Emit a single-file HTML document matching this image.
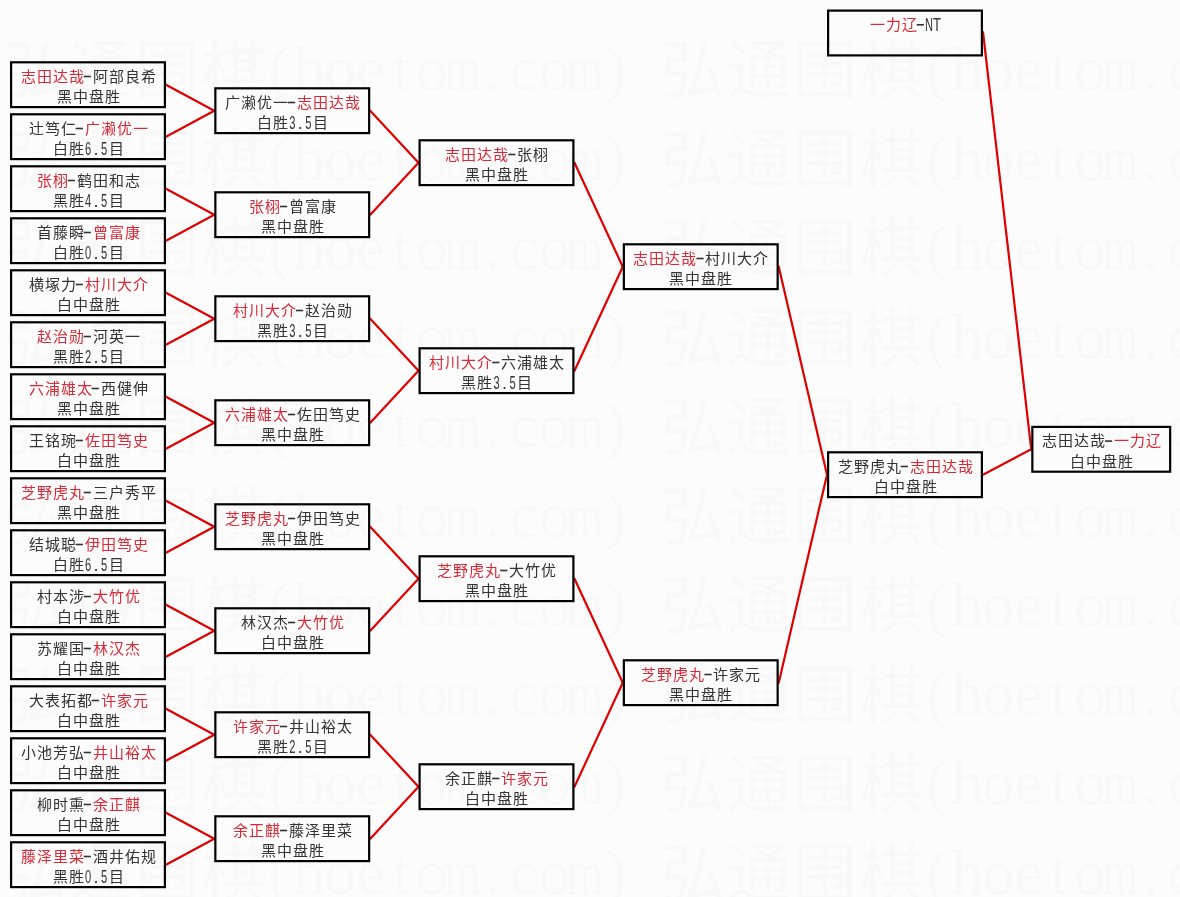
<!DOCTYPE html>
<html lang="zh-CN"><head><meta charset="utf-8"><style>
html,body{margin:0;padding:0;background:#fcfcfc;-webkit-font-smoothing:antialiased;}
body{width:1180px;height:897px;overflow:hidden;position:relative;}
svg{position:absolute;left:0;top:0;will-change:transform;}
.c{font-family:"Liberation Serif",serif;font-size:15.0px;}
.a{font-family:"Liberation Sans",sans-serif;font-size:18px;}
.wc{font-family:"Liberation Serif",serif;font-size:64px;font-weight:300;fill:#f8f8f8;}
.wa{font-family:"Liberation Serif",serif;font-size:64px;fill:#f8f8f8;}
</style></head><body>
<svg width="1180" height="897" viewBox="0 0 1180 897">
<g><text x="3.0 69.0 135.0 201.0" y="92.8" class="wc">弘通围棋</text><text x="268.3" y="90.3" class="wa">(</text><text x="293.6" y="90.3" class="wa">h</text><text x="324.2" y="90.3" class="wa">o</text><text x="356.6" y="90.3" class="wa">e</text><text x="392.5" y="90.3" class="wa">t</text><text x="416.0" y="90.3" class="wa">o</text><text x="444.6" y="90.3" class="wa" textLength="36.0" lengthAdjust="spacingAndGlyphs">m</text><text x="485.2" y="90.3" class="wa">.</text><text x="509.6" y="90.3" class="wa">c</text><text x="538.4" y="90.3" class="wa">o</text><text x="567.0" y="90.3" class="wa" textLength="36.0" lengthAdjust="spacingAndGlyphs">m</text><text x="604.9" y="90.3" class="wa">)</text><text x="661.0 727.0 793.0 859.0" y="92.8" class="wc">弘通围棋</text><text x="926.3" y="90.3" class="wa">(</text><text x="951.6" y="90.3" class="wa">h</text><text x="982.2" y="90.3" class="wa">o</text><text x="1014.6" y="90.3" class="wa">e</text><text x="1050.5" y="90.3" class="wa">t</text><text x="1074.0" y="90.3" class="wa">o</text><text x="1102.6" y="90.3" class="wa" textLength="36.0" lengthAdjust="spacingAndGlyphs">m</text><text x="1143.2" y="90.3" class="wa">.</text><text x="1167.6" y="90.3" class="wa">c</text><text x="1196.4" y="90.3" class="wa">o</text><text x="1225.0" y="90.3" class="wa" textLength="36.0" lengthAdjust="spacingAndGlyphs">m</text><text x="1262.9" y="90.3" class="wa">)</text><text x="3.0 69.0 135.0 201.0" y="182.1" class="wc">弘通围棋</text><text x="268.3" y="179.6" class="wa">(</text><text x="293.6" y="179.6" class="wa">h</text><text x="324.2" y="179.6" class="wa">o</text><text x="356.6" y="179.6" class="wa">e</text><text x="392.5" y="179.6" class="wa">t</text><text x="416.0" y="179.6" class="wa">o</text><text x="444.6" y="179.6" class="wa" textLength="36.0" lengthAdjust="spacingAndGlyphs">m</text><text x="485.2" y="179.6" class="wa">.</text><text x="509.6" y="179.6" class="wa">c</text><text x="538.4" y="179.6" class="wa">o</text><text x="567.0" y="179.6" class="wa" textLength="36.0" lengthAdjust="spacingAndGlyphs">m</text><text x="604.9" y="179.6" class="wa">)</text><text x="661.0 727.0 793.0 859.0" y="182.1" class="wc">弘通围棋</text><text x="926.3" y="179.6" class="wa">(</text><text x="951.6" y="179.6" class="wa">h</text><text x="982.2" y="179.6" class="wa">o</text><text x="1014.6" y="179.6" class="wa">e</text><text x="1050.5" y="179.6" class="wa">t</text><text x="1074.0" y="179.6" class="wa">o</text><text x="1102.6" y="179.6" class="wa" textLength="36.0" lengthAdjust="spacingAndGlyphs">m</text><text x="1143.2" y="179.6" class="wa">.</text><text x="1167.6" y="179.6" class="wa">c</text><text x="1196.4" y="179.6" class="wa">o</text><text x="1225.0" y="179.6" class="wa" textLength="36.0" lengthAdjust="spacingAndGlyphs">m</text><text x="1262.9" y="179.6" class="wa">)</text><text x="3.0 69.0 135.0 201.0" y="271.3" class="wc">弘通围棋</text><text x="268.3" y="268.8" class="wa">(</text><text x="293.6" y="268.8" class="wa">h</text><text x="324.2" y="268.8" class="wa">o</text><text x="356.6" y="268.8" class="wa">e</text><text x="392.5" y="268.8" class="wa">t</text><text x="416.0" y="268.8" class="wa">o</text><text x="444.6" y="268.8" class="wa" textLength="36.0" lengthAdjust="spacingAndGlyphs">m</text><text x="485.2" y="268.8" class="wa">.</text><text x="509.6" y="268.8" class="wa">c</text><text x="538.4" y="268.8" class="wa">o</text><text x="567.0" y="268.8" class="wa" textLength="36.0" lengthAdjust="spacingAndGlyphs">m</text><text x="604.9" y="268.8" class="wa">)</text><text x="661.0 727.0 793.0 859.0" y="271.3" class="wc">弘通围棋</text><text x="926.3" y="268.8" class="wa">(</text><text x="951.6" y="268.8" class="wa">h</text><text x="982.2" y="268.8" class="wa">o</text><text x="1014.6" y="268.8" class="wa">e</text><text x="1050.5" y="268.8" class="wa">t</text><text x="1074.0" y="268.8" class="wa">o</text><text x="1102.6" y="268.8" class="wa" textLength="36.0" lengthAdjust="spacingAndGlyphs">m</text><text x="1143.2" y="268.8" class="wa">.</text><text x="1167.6" y="268.8" class="wa">c</text><text x="1196.4" y="268.8" class="wa">o</text><text x="1225.0" y="268.8" class="wa" textLength="36.0" lengthAdjust="spacingAndGlyphs">m</text><text x="1262.9" y="268.8" class="wa">)</text><text x="3.0 69.0 135.0 201.0" y="360.6" class="wc">弘通围棋</text><text x="268.3" y="358.1" class="wa">(</text><text x="293.6" y="358.1" class="wa">h</text><text x="324.2" y="358.1" class="wa">o</text><text x="356.6" y="358.1" class="wa">e</text><text x="392.5" y="358.1" class="wa">t</text><text x="416.0" y="358.1" class="wa">o</text><text x="444.6" y="358.1" class="wa" textLength="36.0" lengthAdjust="spacingAndGlyphs">m</text><text x="485.2" y="358.1" class="wa">.</text><text x="509.6" y="358.1" class="wa">c</text><text x="538.4" y="358.1" class="wa">o</text><text x="567.0" y="358.1" class="wa" textLength="36.0" lengthAdjust="spacingAndGlyphs">m</text><text x="604.9" y="358.1" class="wa">)</text><text x="661.0 727.0 793.0 859.0" y="360.6" class="wc">弘通围棋</text><text x="926.3" y="358.1" class="wa">(</text><text x="951.6" y="358.1" class="wa">h</text><text x="982.2" y="358.1" class="wa">o</text><text x="1014.6" y="358.1" class="wa">e</text><text x="1050.5" y="358.1" class="wa">t</text><text x="1074.0" y="358.1" class="wa">o</text><text x="1102.6" y="358.1" class="wa" textLength="36.0" lengthAdjust="spacingAndGlyphs">m</text><text x="1143.2" y="358.1" class="wa">.</text><text x="1167.6" y="358.1" class="wa">c</text><text x="1196.4" y="358.1" class="wa">o</text><text x="1225.0" y="358.1" class="wa" textLength="36.0" lengthAdjust="spacingAndGlyphs">m</text><text x="1262.9" y="358.1" class="wa">)</text><text x="3.0 69.0 135.0 201.0" y="449.8" class="wc">弘通围棋</text><text x="268.3" y="447.3" class="wa">(</text><text x="293.6" y="447.3" class="wa">h</text><text x="324.2" y="447.3" class="wa">o</text><text x="356.6" y="447.3" class="wa">e</text><text x="392.5" y="447.3" class="wa">t</text><text x="416.0" y="447.3" class="wa">o</text><text x="444.6" y="447.3" class="wa" textLength="36.0" lengthAdjust="spacingAndGlyphs">m</text><text x="485.2" y="447.3" class="wa">.</text><text x="509.6" y="447.3" class="wa">c</text><text x="538.4" y="447.3" class="wa">o</text><text x="567.0" y="447.3" class="wa" textLength="36.0" lengthAdjust="spacingAndGlyphs">m</text><text x="604.9" y="447.3" class="wa">)</text><text x="661.0 727.0 793.0 859.0" y="449.8" class="wc">弘通围棋</text><text x="926.3" y="447.3" class="wa">(</text><text x="951.6" y="447.3" class="wa">h</text><text x="982.2" y="447.3" class="wa">o</text><text x="1014.6" y="447.3" class="wa">e</text><text x="1050.5" y="447.3" class="wa">t</text><text x="1074.0" y="447.3" class="wa">o</text><text x="1102.6" y="447.3" class="wa" textLength="36.0" lengthAdjust="spacingAndGlyphs">m</text><text x="1143.2" y="447.3" class="wa">.</text><text x="1167.6" y="447.3" class="wa">c</text><text x="1196.4" y="447.3" class="wa">o</text><text x="1225.0" y="447.3" class="wa" textLength="36.0" lengthAdjust="spacingAndGlyphs">m</text><text x="1262.9" y="447.3" class="wa">)</text><text x="3.0 69.0 135.0 201.0" y="539.0" class="wc">弘通围棋</text><text x="268.3" y="536.5" class="wa">(</text><text x="293.6" y="536.5" class="wa">h</text><text x="324.2" y="536.5" class="wa">o</text><text x="356.6" y="536.5" class="wa">e</text><text x="392.5" y="536.5" class="wa">t</text><text x="416.0" y="536.5" class="wa">o</text><text x="444.6" y="536.5" class="wa" textLength="36.0" lengthAdjust="spacingAndGlyphs">m</text><text x="485.2" y="536.5" class="wa">.</text><text x="509.6" y="536.5" class="wa">c</text><text x="538.4" y="536.5" class="wa">o</text><text x="567.0" y="536.5" class="wa" textLength="36.0" lengthAdjust="spacingAndGlyphs">m</text><text x="604.9" y="536.5" class="wa">)</text><text x="661.0 727.0 793.0 859.0" y="539.0" class="wc">弘通围棋</text><text x="926.3" y="536.5" class="wa">(</text><text x="951.6" y="536.5" class="wa">h</text><text x="982.2" y="536.5" class="wa">o</text><text x="1014.6" y="536.5" class="wa">e</text><text x="1050.5" y="536.5" class="wa">t</text><text x="1074.0" y="536.5" class="wa">o</text><text x="1102.6" y="536.5" class="wa" textLength="36.0" lengthAdjust="spacingAndGlyphs">m</text><text x="1143.2" y="536.5" class="wa">.</text><text x="1167.6" y="536.5" class="wa">c</text><text x="1196.4" y="536.5" class="wa">o</text><text x="1225.0" y="536.5" class="wa" textLength="36.0" lengthAdjust="spacingAndGlyphs">m</text><text x="1262.9" y="536.5" class="wa">)</text><text x="3.0 69.0 135.0 201.0" y="628.3" class="wc">弘通围棋</text><text x="268.3" y="625.8" class="wa">(</text><text x="293.6" y="625.8" class="wa">h</text><text x="324.2" y="625.8" class="wa">o</text><text x="356.6" y="625.8" class="wa">e</text><text x="392.5" y="625.8" class="wa">t</text><text x="416.0" y="625.8" class="wa">o</text><text x="444.6" y="625.8" class="wa" textLength="36.0" lengthAdjust="spacingAndGlyphs">m</text><text x="485.2" y="625.8" class="wa">.</text><text x="509.6" y="625.8" class="wa">c</text><text x="538.4" y="625.8" class="wa">o</text><text x="567.0" y="625.8" class="wa" textLength="36.0" lengthAdjust="spacingAndGlyphs">m</text><text x="604.9" y="625.8" class="wa">)</text><text x="661.0 727.0 793.0 859.0" y="628.3" class="wc">弘通围棋</text><text x="926.3" y="625.8" class="wa">(</text><text x="951.6" y="625.8" class="wa">h</text><text x="982.2" y="625.8" class="wa">o</text><text x="1014.6" y="625.8" class="wa">e</text><text x="1050.5" y="625.8" class="wa">t</text><text x="1074.0" y="625.8" class="wa">o</text><text x="1102.6" y="625.8" class="wa" textLength="36.0" lengthAdjust="spacingAndGlyphs">m</text><text x="1143.2" y="625.8" class="wa">.</text><text x="1167.6" y="625.8" class="wa">c</text><text x="1196.4" y="625.8" class="wa">o</text><text x="1225.0" y="625.8" class="wa" textLength="36.0" lengthAdjust="spacingAndGlyphs">m</text><text x="1262.9" y="625.8" class="wa">)</text><text x="3.0 69.0 135.0 201.0" y="717.5" class="wc">弘通围棋</text><text x="268.3" y="715.0" class="wa">(</text><text x="293.6" y="715.0" class="wa">h</text><text x="324.2" y="715.0" class="wa">o</text><text x="356.6" y="715.0" class="wa">e</text><text x="392.5" y="715.0" class="wa">t</text><text x="416.0" y="715.0" class="wa">o</text><text x="444.6" y="715.0" class="wa" textLength="36.0" lengthAdjust="spacingAndGlyphs">m</text><text x="485.2" y="715.0" class="wa">.</text><text x="509.6" y="715.0" class="wa">c</text><text x="538.4" y="715.0" class="wa">o</text><text x="567.0" y="715.0" class="wa" textLength="36.0" lengthAdjust="spacingAndGlyphs">m</text><text x="604.9" y="715.0" class="wa">)</text><text x="661.0 727.0 793.0 859.0" y="717.5" class="wc">弘通围棋</text><text x="926.3" y="715.0" class="wa">(</text><text x="951.6" y="715.0" class="wa">h</text><text x="982.2" y="715.0" class="wa">o</text><text x="1014.6" y="715.0" class="wa">e</text><text x="1050.5" y="715.0" class="wa">t</text><text x="1074.0" y="715.0" class="wa">o</text><text x="1102.6" y="715.0" class="wa" textLength="36.0" lengthAdjust="spacingAndGlyphs">m</text><text x="1143.2" y="715.0" class="wa">.</text><text x="1167.6" y="715.0" class="wa">c</text><text x="1196.4" y="715.0" class="wa">o</text><text x="1225.0" y="715.0" class="wa" textLength="36.0" lengthAdjust="spacingAndGlyphs">m</text><text x="1262.9" y="715.0" class="wa">)</text><text x="3.0 69.0 135.0 201.0" y="806.8" class="wc">弘通围棋</text><text x="268.3" y="804.3" class="wa">(</text><text x="293.6" y="804.3" class="wa">h</text><text x="324.2" y="804.3" class="wa">o</text><text x="356.6" y="804.3" class="wa">e</text><text x="392.5" y="804.3" class="wa">t</text><text x="416.0" y="804.3" class="wa">o</text><text x="444.6" y="804.3" class="wa" textLength="36.0" lengthAdjust="spacingAndGlyphs">m</text><text x="485.2" y="804.3" class="wa">.</text><text x="509.6" y="804.3" class="wa">c</text><text x="538.4" y="804.3" class="wa">o</text><text x="567.0" y="804.3" class="wa" textLength="36.0" lengthAdjust="spacingAndGlyphs">m</text><text x="604.9" y="804.3" class="wa">)</text><text x="661.0 727.0 793.0 859.0" y="806.8" class="wc">弘通围棋</text><text x="926.3" y="804.3" class="wa">(</text><text x="951.6" y="804.3" class="wa">h</text><text x="982.2" y="804.3" class="wa">o</text><text x="1014.6" y="804.3" class="wa">e</text><text x="1050.5" y="804.3" class="wa">t</text><text x="1074.0" y="804.3" class="wa">o</text><text x="1102.6" y="804.3" class="wa" textLength="36.0" lengthAdjust="spacingAndGlyphs">m</text><text x="1143.2" y="804.3" class="wa">.</text><text x="1167.6" y="804.3" class="wa">c</text><text x="1196.4" y="804.3" class="wa">o</text><text x="1225.0" y="804.3" class="wa" textLength="36.0" lengthAdjust="spacingAndGlyphs">m</text><text x="1262.9" y="804.3" class="wa">)</text><text x="3.0 69.0 135.0 201.0" y="896.0" class="wc">弘通围棋</text><text x="268.3" y="893.5" class="wa">(</text><text x="293.6" y="893.5" class="wa">h</text><text x="324.2" y="893.5" class="wa">o</text><text x="356.6" y="893.5" class="wa">e</text><text x="392.5" y="893.5" class="wa">t</text><text x="416.0" y="893.5" class="wa">o</text><text x="444.6" y="893.5" class="wa" textLength="36.0" lengthAdjust="spacingAndGlyphs">m</text><text x="485.2" y="893.5" class="wa">.</text><text x="509.6" y="893.5" class="wa">c</text><text x="538.4" y="893.5" class="wa">o</text><text x="567.0" y="893.5" class="wa" textLength="36.0" lengthAdjust="spacingAndGlyphs">m</text><text x="604.9" y="893.5" class="wa">)</text><text x="661.0 727.0 793.0 859.0" y="896.0" class="wc">弘通围棋</text><text x="926.3" y="893.5" class="wa">(</text><text x="951.6" y="893.5" class="wa">h</text><text x="982.2" y="893.5" class="wa">o</text><text x="1014.6" y="893.5" class="wa">e</text><text x="1050.5" y="893.5" class="wa">t</text><text x="1074.0" y="893.5" class="wa">o</text><text x="1102.6" y="893.5" class="wa" textLength="36.0" lengthAdjust="spacingAndGlyphs">m</text><text x="1143.2" y="893.5" class="wa">.</text><text x="1167.6" y="893.5" class="wa">c</text><text x="1196.4" y="893.5" class="wa">o</text><text x="1225.0" y="893.5" class="wa" textLength="36.0" lengthAdjust="spacingAndGlyphs">m</text><text x="1262.9" y="893.5" class="wa">)</text></g>
<g stroke="#e00000" stroke-width="2.2" stroke-linecap="round">
<line x1="166.00" y1="84.70" x2="214.25" y2="110.70"/>
<line x1="166.00" y1="136.70" x2="214.25" y2="110.70"/>
<line x1="166.00" y1="188.70" x2="214.25" y2="214.70"/>
<line x1="166.00" y1="240.70" x2="214.25" y2="214.70"/>
<line x1="166.00" y1="292.70" x2="214.25" y2="318.70"/>
<line x1="166.00" y1="344.70" x2="214.25" y2="318.70"/>
<line x1="166.00" y1="396.70" x2="214.25" y2="422.70"/>
<line x1="166.00" y1="448.70" x2="214.25" y2="422.70"/>
<line x1="166.00" y1="500.70" x2="214.25" y2="526.70"/>
<line x1="166.00" y1="552.70" x2="214.25" y2="526.70"/>
<line x1="166.00" y1="604.70" x2="214.25" y2="630.70"/>
<line x1="166.00" y1="656.70" x2="214.25" y2="630.70"/>
<line x1="166.00" y1="708.70" x2="214.25" y2="734.70"/>
<line x1="166.00" y1="760.70" x2="214.25" y2="734.70"/>
<line x1="166.00" y1="812.70" x2="214.25" y2="838.70"/>
<line x1="166.00" y1="864.70" x2="214.25" y2="838.70"/>
<line x1="370.25" y1="110.70" x2="418.50" y2="162.70"/>
<line x1="370.25" y1="214.70" x2="418.50" y2="162.70"/>
<line x1="370.25" y1="318.70" x2="418.50" y2="370.70"/>
<line x1="370.25" y1="422.70" x2="418.50" y2="370.70"/>
<line x1="370.25" y1="526.70" x2="418.50" y2="578.70"/>
<line x1="370.25" y1="630.70" x2="418.50" y2="578.70"/>
<line x1="370.25" y1="734.70" x2="418.50" y2="786.70"/>
<line x1="370.25" y1="838.70" x2="418.50" y2="786.70"/>
<line x1="574.50" y1="162.70" x2="622.75" y2="266.70"/>
<line x1="574.50" y1="370.70" x2="622.75" y2="266.70"/>
<line x1="574.50" y1="578.70" x2="622.75" y2="682.70"/>
<line x1="574.50" y1="786.70" x2="622.75" y2="682.70"/>
<line x1="778.75" y1="266.70" x2="827.00" y2="474.70"/>
<line x1="778.75" y1="682.70" x2="827.00" y2="474.70"/>
<line x1="983.00" y1="474.70" x2="1031.25" y2="449.30"/>
<line x1="983.00" y1="32.00" x2="1031.25" y2="449.30"/>
</g>
<g fill="none" stroke="#000" stroke-width="2.2">
<rect x="11.10" y="62.30" width="153.80" height="44.80"/>
<rect x="11.10" y="114.30" width="153.80" height="44.80"/>
<rect x="11.10" y="166.30" width="153.80" height="44.80"/>
<rect x="11.10" y="218.30" width="153.80" height="44.80"/>
<rect x="11.10" y="270.30" width="153.80" height="44.80"/>
<rect x="11.10" y="322.30" width="153.80" height="44.80"/>
<rect x="11.10" y="374.30" width="153.80" height="44.80"/>
<rect x="11.10" y="426.30" width="153.80" height="44.80"/>
<rect x="11.10" y="478.30" width="153.80" height="44.80"/>
<rect x="11.10" y="530.30" width="153.80" height="44.80"/>
<rect x="11.10" y="582.30" width="153.80" height="44.80"/>
<rect x="11.10" y="634.30" width="153.80" height="44.80"/>
<rect x="11.10" y="686.30" width="153.80" height="44.80"/>
<rect x="11.10" y="738.30" width="153.80" height="44.80"/>
<rect x="11.10" y="790.30" width="153.80" height="44.80"/>
<rect x="11.10" y="842.30" width="153.80" height="44.80"/>
<rect x="215.35" y="88.30" width="153.80" height="44.80"/>
<rect x="215.35" y="192.30" width="153.80" height="44.80"/>
<rect x="215.35" y="296.30" width="153.80" height="44.80"/>
<rect x="215.35" y="400.30" width="153.80" height="44.80"/>
<rect x="215.35" y="504.30" width="153.80" height="44.80"/>
<rect x="215.35" y="608.30" width="153.80" height="44.80"/>
<rect x="215.35" y="712.30" width="153.80" height="44.80"/>
<rect x="215.35" y="816.30" width="153.80" height="44.80"/>
<rect x="419.60" y="140.30" width="153.80" height="44.80"/>
<rect x="419.60" y="348.30" width="153.80" height="44.80"/>
<rect x="419.60" y="556.30" width="153.80" height="44.80"/>
<rect x="419.60" y="764.30" width="153.80" height="44.80"/>
<rect x="623.85" y="244.30" width="153.80" height="44.80"/>
<rect x="623.85" y="660.30" width="153.80" height="44.80"/>
<rect x="828.10" y="452.30" width="153.80" height="44.80"/>
<rect x="1032.35" y="426.90" width="137.80" height="44.80"/>
<rect x="828.10" y="10.60" width="153.80" height="44.80"/>
</g>
<g>
<text x="20.50 36.50 52.50 68.50" y="81.50" class="c" fill="#d82a36">志田达哉</text>
<rect x="83.70" y="75.70" width="7.20" height="1.60" fill="#333"/>
<text x="92.50 108.50 124.50 140.50" y="81.50" class="c" fill="#333">阿部良希</text>
<text x="56.50 72.50 88.50 104.50" y="102.00" class="c" fill="#333">黑中盘胜</text>
<text x="28.50 44.50 60.50" y="133.50" class="c" fill="#333">辻笃仁</text>
<rect x="75.70" y="127.70" width="7.20" height="1.60" fill="#333"/>
<text x="84.50 100.50 116.50 132.50" y="133.50" class="c" fill="#d82a36">广濑优一</text>
<text x="52.50 68.50" y="154.00" class="c" fill="#333">白胜</text>
<text x="84.90" y="154.70" class="a" fill="#333" textLength="6.20" lengthAdjust="spacingAndGlyphs">6</text>
<text x="93.50" y="154.70" class="a" fill="#333" textLength="5.00" lengthAdjust="spacingAndGlyphs">.</text>
<text x="100.90" y="154.70" class="a" fill="#333" textLength="6.20" lengthAdjust="spacingAndGlyphs">5</text>
<text x="108.50" y="154.00" class="c" fill="#333">目</text>
<text x="36.50 52.50" y="185.50" class="c" fill="#d82a36">张栩</text>
<rect x="67.70" y="179.70" width="7.20" height="1.60" fill="#333"/>
<text x="76.50 92.50 108.50 124.50" y="185.50" class="c" fill="#333">鹤田和志</text>
<text x="52.50 68.50" y="206.00" class="c" fill="#333">黑胜</text>
<text x="84.90" y="206.70" class="a" fill="#333" textLength="6.20" lengthAdjust="spacingAndGlyphs">4</text>
<text x="93.50" y="206.70" class="a" fill="#333" textLength="5.00" lengthAdjust="spacingAndGlyphs">.</text>
<text x="100.90" y="206.70" class="a" fill="#333" textLength="6.20" lengthAdjust="spacingAndGlyphs">5</text>
<text x="108.50" y="206.00" class="c" fill="#333">目</text>
<text x="36.50 52.50 68.50" y="237.50" class="c" fill="#333">首藤瞬</text>
<rect x="83.70" y="231.70" width="7.20" height="1.60" fill="#333"/>
<text x="92.50 108.50 124.50" y="237.50" class="c" fill="#d82a36">曾富康</text>
<text x="52.50 68.50" y="258.00" class="c" fill="#333">白胜</text>
<text x="84.90" y="258.70" class="a" fill="#333" textLength="6.20" lengthAdjust="spacingAndGlyphs">0</text>
<text x="93.50" y="258.70" class="a" fill="#333" textLength="5.00" lengthAdjust="spacingAndGlyphs">.</text>
<text x="100.90" y="258.70" class="a" fill="#333" textLength="6.20" lengthAdjust="spacingAndGlyphs">5</text>
<text x="108.50" y="258.00" class="c" fill="#333">目</text>
<text x="28.50 44.50 60.50" y="289.50" class="c" fill="#333">横塚力</text>
<rect x="75.70" y="283.70" width="7.20" height="1.60" fill="#333"/>
<text x="84.50 100.50 116.50 132.50" y="289.50" class="c" fill="#d82a36">村川大介</text>
<text x="56.50 72.50 88.50 104.50" y="310.00" class="c" fill="#333">白中盘胜</text>
<text x="36.50 52.50 68.50" y="341.50" class="c" fill="#d82a36">赵治勋</text>
<rect x="83.70" y="335.70" width="7.20" height="1.60" fill="#333"/>
<text x="92.50 108.50 124.50" y="341.50" class="c" fill="#333">河英一</text>
<text x="52.50 68.50" y="362.00" class="c" fill="#333">黑胜</text>
<text x="84.90" y="362.70" class="a" fill="#333" textLength="6.20" lengthAdjust="spacingAndGlyphs">2</text>
<text x="93.50" y="362.70" class="a" fill="#333" textLength="5.00" lengthAdjust="spacingAndGlyphs">.</text>
<text x="100.90" y="362.70" class="a" fill="#333" textLength="6.20" lengthAdjust="spacingAndGlyphs">5</text>
<text x="108.50" y="362.00" class="c" fill="#333">目</text>
<text x="28.50 44.50 60.50 76.50" y="393.50" class="c" fill="#d82a36">六浦雄太</text>
<rect x="91.70" y="387.70" width="7.20" height="1.60" fill="#333"/>
<text x="100.50 116.50 132.50" y="393.50" class="c" fill="#333">西健伸</text>
<text x="56.50 72.50 88.50 104.50" y="414.00" class="c" fill="#333">黑中盘胜</text>
<text x="28.50 44.50 60.50" y="445.50" class="c" fill="#333">王铭琬</text>
<rect x="75.70" y="439.70" width="7.20" height="1.60" fill="#333"/>
<text x="84.50 100.50 116.50 132.50" y="445.50" class="c" fill="#d82a36">佐田笃史</text>
<text x="56.50 72.50 88.50 104.50" y="466.00" class="c" fill="#333">白中盘胜</text>
<text x="20.50 36.50 52.50 68.50" y="497.50" class="c" fill="#d82a36">芝野虎丸</text>
<rect x="83.70" y="491.70" width="7.20" height="1.60" fill="#333"/>
<text x="92.50 108.50 124.50 140.50" y="497.50" class="c" fill="#333">三户秀平</text>
<text x="56.50 72.50 88.50 104.50" y="518.00" class="c" fill="#333">黑中盘胜</text>
<text x="28.50 44.50 60.50" y="549.50" class="c" fill="#333">结城聪</text>
<rect x="75.70" y="543.70" width="7.20" height="1.60" fill="#333"/>
<text x="84.50 100.50 116.50 132.50" y="549.50" class="c" fill="#d82a36">伊田笃史</text>
<text x="52.50 68.50" y="570.00" class="c" fill="#333">白胜</text>
<text x="84.90" y="570.70" class="a" fill="#333" textLength="6.20" lengthAdjust="spacingAndGlyphs">6</text>
<text x="93.50" y="570.70" class="a" fill="#333" textLength="5.00" lengthAdjust="spacingAndGlyphs">.</text>
<text x="100.90" y="570.70" class="a" fill="#333" textLength="6.20" lengthAdjust="spacingAndGlyphs">5</text>
<text x="108.50" y="570.00" class="c" fill="#333">目</text>
<text x="36.50 52.50 68.50" y="601.50" class="c" fill="#333">村本涉</text>
<rect x="83.70" y="595.70" width="7.20" height="1.60" fill="#333"/>
<text x="92.50 108.50 124.50" y="601.50" class="c" fill="#d82a36">大竹优</text>
<text x="56.50 72.50 88.50 104.50" y="622.00" class="c" fill="#333">白中盘胜</text>
<text x="36.50 52.50 68.50" y="653.50" class="c" fill="#333">苏耀国</text>
<rect x="83.70" y="647.70" width="7.20" height="1.60" fill="#333"/>
<text x="92.50 108.50 124.50" y="653.50" class="c" fill="#d82a36">林汉杰</text>
<text x="56.50 72.50 88.50 104.50" y="674.00" class="c" fill="#333">白中盘胜</text>
<text x="28.50 44.50 60.50 76.50" y="705.50" class="c" fill="#333">大表拓都</text>
<rect x="91.70" y="699.70" width="7.20" height="1.60" fill="#333"/>
<text x="100.50 116.50 132.50" y="705.50" class="c" fill="#d82a36">许家元</text>
<text x="56.50 72.50 88.50 104.50" y="726.00" class="c" fill="#333">白中盘胜</text>
<text x="20.50 36.50 52.50 68.50" y="757.50" class="c" fill="#333">小池芳弘</text>
<rect x="83.70" y="751.70" width="7.20" height="1.60" fill="#333"/>
<text x="92.50 108.50 124.50 140.50" y="757.50" class="c" fill="#d82a36">井山裕太</text>
<text x="56.50 72.50 88.50 104.50" y="778.00" class="c" fill="#333">白中盘胜</text>
<text x="36.50 52.50 68.50" y="809.50" class="c" fill="#333">柳时熏</text>
<rect x="83.70" y="803.70" width="7.20" height="1.60" fill="#333"/>
<text x="92.50 108.50 124.50" y="809.50" class="c" fill="#d82a36">余正麒</text>
<text x="56.50 72.50 88.50 104.50" y="830.00" class="c" fill="#333">白中盘胜</text>
<text x="20.50 36.50 52.50 68.50" y="861.50" class="c" fill="#d82a36">藤泽里菜</text>
<rect x="83.70" y="855.70" width="7.20" height="1.60" fill="#333"/>
<text x="92.50 108.50 124.50 140.50" y="861.50" class="c" fill="#333">酒井佑规</text>
<text x="52.50 68.50" y="882.00" class="c" fill="#333">黑胜</text>
<text x="84.90" y="882.70" class="a" fill="#333" textLength="6.20" lengthAdjust="spacingAndGlyphs">0</text>
<text x="93.50" y="882.70" class="a" fill="#333" textLength="5.00" lengthAdjust="spacingAndGlyphs">.</text>
<text x="100.90" y="882.70" class="a" fill="#333" textLength="6.20" lengthAdjust="spacingAndGlyphs">5</text>
<text x="108.50" y="882.00" class="c" fill="#333">目</text>
<text x="224.75 240.75 256.75 272.75" y="107.50" class="c" fill="#333">广濑优一</text>
<rect x="287.95" y="101.70" width="7.20" height="1.60" fill="#333"/>
<text x="296.75 312.75 328.75 344.75" y="107.50" class="c" fill="#d82a36">志田达哉</text>
<text x="256.75 272.75" y="128.00" class="c" fill="#333">白胜</text>
<text x="289.15" y="128.70" class="a" fill="#333" textLength="6.20" lengthAdjust="spacingAndGlyphs">3</text>
<text x="297.75" y="128.70" class="a" fill="#333" textLength="5.00" lengthAdjust="spacingAndGlyphs">.</text>
<text x="305.15" y="128.70" class="a" fill="#333" textLength="6.20" lengthAdjust="spacingAndGlyphs">5</text>
<text x="312.75" y="128.00" class="c" fill="#333">目</text>
<text x="248.75 264.75" y="211.50" class="c" fill="#d82a36">张栩</text>
<rect x="279.95" y="205.70" width="7.20" height="1.60" fill="#333"/>
<text x="288.75 304.75 320.75" y="211.50" class="c" fill="#333">曾富康</text>
<text x="260.75 276.75 292.75 308.75" y="232.00" class="c" fill="#333">黑中盘胜</text>
<text x="232.75 248.75 264.75 280.75" y="315.50" class="c" fill="#d82a36">村川大介</text>
<rect x="295.95" y="309.70" width="7.20" height="1.60" fill="#333"/>
<text x="304.75 320.75 336.75" y="315.50" class="c" fill="#333">赵治勋</text>
<text x="256.75 272.75" y="336.00" class="c" fill="#333">黑胜</text>
<text x="289.15" y="336.70" class="a" fill="#333" textLength="6.20" lengthAdjust="spacingAndGlyphs">3</text>
<text x="297.75" y="336.70" class="a" fill="#333" textLength="5.00" lengthAdjust="spacingAndGlyphs">.</text>
<text x="305.15" y="336.70" class="a" fill="#333" textLength="6.20" lengthAdjust="spacingAndGlyphs">5</text>
<text x="312.75" y="336.00" class="c" fill="#333">目</text>
<text x="224.75 240.75 256.75 272.75" y="419.50" class="c" fill="#d82a36">六浦雄太</text>
<rect x="287.95" y="413.70" width="7.20" height="1.60" fill="#333"/>
<text x="296.75 312.75 328.75 344.75" y="419.50" class="c" fill="#333">佐田笃史</text>
<text x="260.75 276.75 292.75 308.75" y="440.00" class="c" fill="#333">黑中盘胜</text>
<text x="224.75 240.75 256.75 272.75" y="523.50" class="c" fill="#d82a36">芝野虎丸</text>
<rect x="287.95" y="517.70" width="7.20" height="1.60" fill="#333"/>
<text x="296.75 312.75 328.75 344.75" y="523.50" class="c" fill="#333">伊田笃史</text>
<text x="260.75 276.75 292.75 308.75" y="544.00" class="c" fill="#333">黑中盘胜</text>
<text x="240.75 256.75 272.75" y="627.50" class="c" fill="#333">林汉杰</text>
<rect x="287.95" y="621.70" width="7.20" height="1.60" fill="#333"/>
<text x="296.75 312.75 328.75" y="627.50" class="c" fill="#d82a36">大竹优</text>
<text x="260.75 276.75 292.75 308.75" y="648.00" class="c" fill="#333">白中盘胜</text>
<text x="232.75 248.75 264.75" y="731.50" class="c" fill="#d82a36">许家元</text>
<rect x="279.95" y="725.70" width="7.20" height="1.60" fill="#333"/>
<text x="288.75 304.75 320.75 336.75" y="731.50" class="c" fill="#333">井山裕太</text>
<text x="256.75 272.75" y="752.00" class="c" fill="#333">黑胜</text>
<text x="289.15" y="752.70" class="a" fill="#333" textLength="6.20" lengthAdjust="spacingAndGlyphs">2</text>
<text x="297.75" y="752.70" class="a" fill="#333" textLength="5.00" lengthAdjust="spacingAndGlyphs">.</text>
<text x="305.15" y="752.70" class="a" fill="#333" textLength="6.20" lengthAdjust="spacingAndGlyphs">5</text>
<text x="312.75" y="752.00" class="c" fill="#333">目</text>
<text x="232.75 248.75 264.75" y="835.50" class="c" fill="#d82a36">余正麒</text>
<rect x="279.95" y="829.70" width="7.20" height="1.60" fill="#333"/>
<text x="288.75 304.75 320.75 336.75" y="835.50" class="c" fill="#333">藤泽里菜</text>
<text x="260.75 276.75 292.75 308.75" y="856.00" class="c" fill="#333">黑中盘胜</text>
<text x="445.00 461.00 477.00 493.00" y="159.50" class="c" fill="#d82a36">志田达哉</text>
<rect x="508.20" y="153.70" width="7.20" height="1.60" fill="#333"/>
<text x="517.00 533.00" y="159.50" class="c" fill="#333">张栩</text>
<text x="465.00 481.00 497.00 513.00" y="180.00" class="c" fill="#333">黑中盘胜</text>
<text x="429.00 445.00 461.00 477.00" y="367.50" class="c" fill="#d82a36">村川大介</text>
<rect x="492.20" y="361.70" width="7.20" height="1.60" fill="#333"/>
<text x="501.00 517.00 533.00 549.00" y="367.50" class="c" fill="#333">六浦雄太</text>
<text x="461.00 477.00" y="388.00" class="c" fill="#333">黑胜</text>
<text x="493.40" y="388.70" class="a" fill="#333" textLength="6.20" lengthAdjust="spacingAndGlyphs">3</text>
<text x="502.00" y="388.70" class="a" fill="#333" textLength="5.00" lengthAdjust="spacingAndGlyphs">.</text>
<text x="509.40" y="388.70" class="a" fill="#333" textLength="6.20" lengthAdjust="spacingAndGlyphs">5</text>
<text x="517.00" y="388.00" class="c" fill="#333">目</text>
<text x="437.00 453.00 469.00 485.00" y="575.50" class="c" fill="#d82a36">芝野虎丸</text>
<rect x="500.20" y="569.70" width="7.20" height="1.60" fill="#333"/>
<text x="509.00 525.00 541.00" y="575.50" class="c" fill="#333">大竹优</text>
<text x="465.00 481.00 497.00 513.00" y="596.00" class="c" fill="#333">黑中盘胜</text>
<text x="445.00 461.00 477.00" y="783.50" class="c" fill="#333">余正麒</text>
<rect x="492.20" y="777.70" width="7.20" height="1.60" fill="#333"/>
<text x="501.00 517.00 533.00" y="783.50" class="c" fill="#d82a36">许家元</text>
<text x="465.00 481.00 497.00 513.00" y="804.00" class="c" fill="#333">白中盘胜</text>
<text x="633.25 649.25 665.25 681.25" y="263.50" class="c" fill="#d82a36">志田达哉</text>
<rect x="696.45" y="257.70" width="7.20" height="1.60" fill="#333"/>
<text x="705.25 721.25 737.25 753.25" y="263.50" class="c" fill="#333">村川大介</text>
<text x="669.25 685.25 701.25 717.25" y="284.00" class="c" fill="#333">黑中盘胜</text>
<text x="641.25 657.25 673.25 689.25" y="679.50" class="c" fill="#d82a36">芝野虎丸</text>
<rect x="704.45" y="673.70" width="7.20" height="1.60" fill="#333"/>
<text x="713.25 729.25 745.25" y="679.50" class="c" fill="#333">许家元</text>
<text x="669.25 685.25 701.25 717.25" y="700.00" class="c" fill="#333">黑中盘胜</text>
<text x="837.50 853.50 869.50 885.50" y="471.50" class="c" fill="#333">芝野虎丸</text>
<rect x="900.70" y="465.70" width="7.20" height="1.60" fill="#333"/>
<text x="909.50 925.50 941.50 957.50" y="471.50" class="c" fill="#d82a36">志田达哉</text>
<text x="873.50 889.50 905.50 921.50" y="492.00" class="c" fill="#333">白中盘胜</text>
<text x="1041.75 1057.75 1073.75 1089.75" y="446.10" class="c" fill="#333">志田达哉</text>
<rect x="1104.95" y="440.30" width="7.20" height="1.60" fill="#333"/>
<text x="1113.75 1129.75 1145.75" y="446.10" class="c" fill="#d82a36">一力辽</text>
<text x="1069.75 1085.75 1101.75 1117.75" y="466.60" class="c" fill="#333">白中盘胜</text>
<text x="869.50 885.50 901.50" y="29.80" class="c" fill="#d82a36">一力辽</text>
<rect x="916.70" y="24.00" width="7.20" height="1.60" fill="#333"/>
<text x="925.00" y="30.50" class="a" fill="#333" textLength="8.00" lengthAdjust="spacingAndGlyphs">N</text>
<text x="933.00" y="30.50" class="a" fill="#333" textLength="8.00" lengthAdjust="spacingAndGlyphs">T</text>
</g>
</svg>
</body></html>
